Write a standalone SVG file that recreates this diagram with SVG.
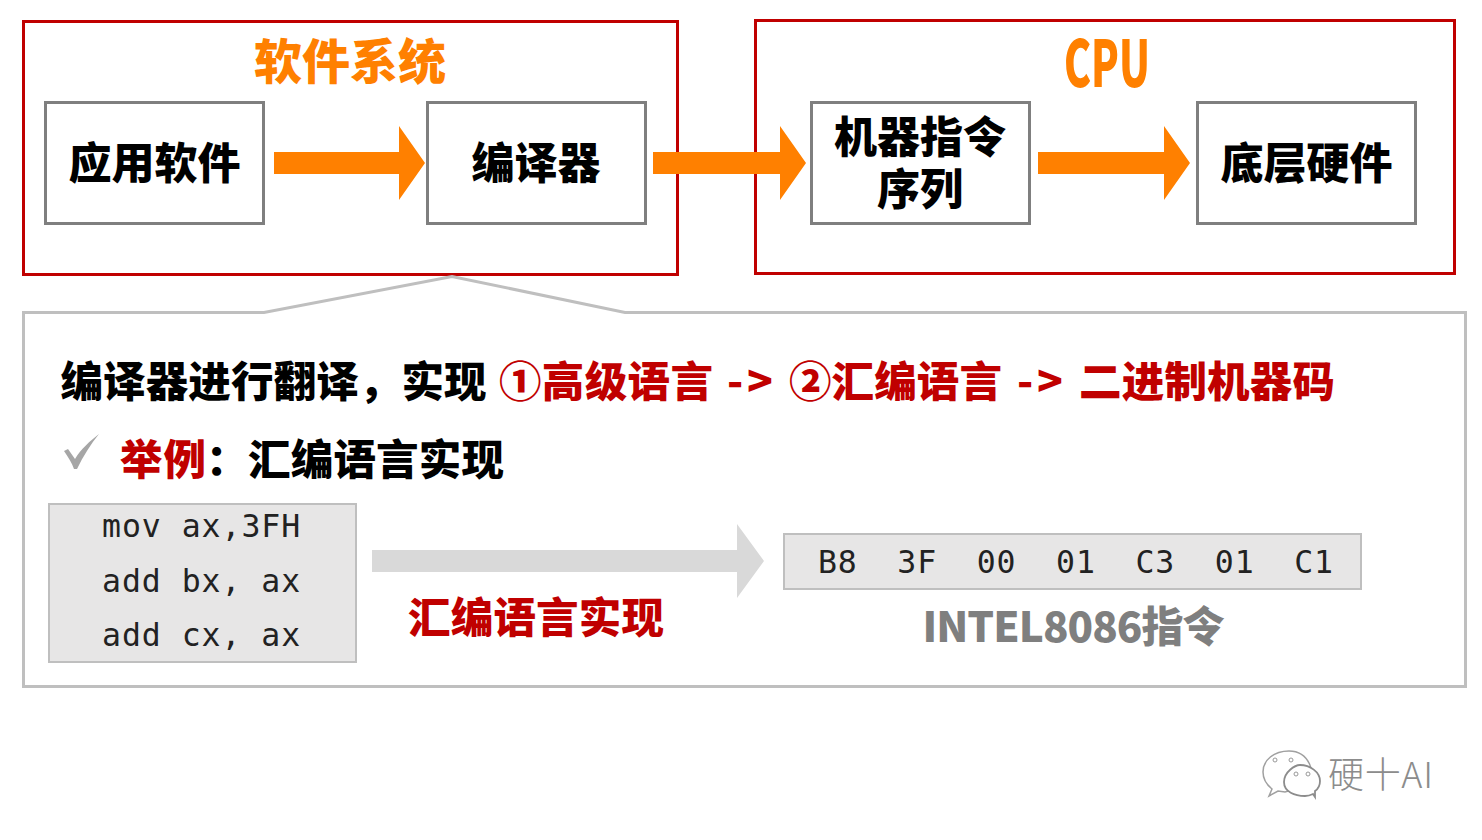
<svg xmlns="http://www.w3.org/2000/svg" width="1482" height="840" viewBox="0 0 1482 840">
<style>
text{font-family:"Noto Sans CJK SC","Noto Sans",sans-serif;font-weight:900}
.t{font-size:43px;fill:#000;text-anchor:middle}
.r{font-size:42.5px;fill:#c00000}
.k{font-size:42.5px;fill:#000}
.o{fill:#ff8000;text-anchor:middle}
.m{font-family:"DejaVu Sans Mono",monospace;font-weight:400;font-size:31.500px;letter-spacing:.95px;fill:#222}
.box{fill:#fff;stroke:#7f7f7f;stroke-width:3}
.red{fill:none;stroke:#c00000;stroke-width:3}
.grey{fill:#e7e6e6;stroke:#bfbfbf;stroke-width:2}
</style>
<rect width="1482" height="840" fill="#fff"/>
<g id="software-system"><rect class="red" x="23.500" y="21.500" width="654" height="253"/><text class="o" x="350" y="79" font-size="48">软件系统</text></g>
<g id="cpu"><rect class="red" x="755.500" y="20.500" width="699" height="253"/><text class="o" x="1107" y="87" font-size="64" textLength="86" lengthAdjust="spacingAndGlyphs">CPU</text></g>
<g id="app"><rect class="box" x="45.500" y="102.500" width="218" height="121"/><text class="t" x="154.500" y="179">应用软件</text></g>
<g id="compiler"><rect class="box" x="427.500" y="102.500" width="218" height="121"/><text class="t" x="536" y="179">编译器</text></g>
<g id="instructions"><rect class="box" x="811.500" y="102.500" width="218" height="121"/><text class="t" y="153"><tspan x="920">机器指令</tspan><tspan x="920" y="205">序列</tspan></text></g>
<g id="hardware"><rect class="box" x="1197.500" y="102.500" width="218" height="121"/><text class="t" x="1306.500" y="179">底层硬件</text></g>
<g id="connectors">
<path fill="#ff8000" d="M274 152H399V126L425 163L399 200V174H274Z"/>
<path fill="#ff8000" d="M653 152H780V126L806 163L780 200V174H653Z"/>
<path fill="#ff8000" d="M1038 152H1164V126L1190 163L1164 200V174H1038Z"/>
<path fill="#d9d9d9" d="M372 550H737V524L764 561L737 598V572H372Z"/>
</g>
<g id="detail-panel">
<path fill="none" stroke="#bfbfbf" stroke-width="3" d="M23.500 312.500H264L452 276.500L625 312.500H1465.500V686.500H23.500Z"/>
<text class="k" x="60.500" y="397" textLength="426">编译器进行翻译，实现</text>
<text class="r" x="499" y="397" textLength="214">①高级语言</text>
<text class="r" x="727" y="397" textLength="46">-&gt;</text>
<text class="r" x="789" y="397" textLength="213">②汇编语言</text>
<text class="r" x="1017" y="397" textLength="46">-&gt;</text>
<text class="r" x="1079" y="397" textLength="256">二进制机器码</text>
<path fill="#a6a6a6" d="M64 451L68 449L75 459C81 449 90 441 99 434C91 444 83 456 77 469L74 469C72 463 68 457 64 451Z"/>
<text class="r" x="120" y="475" textLength="86">举例</text>
<text class="k" x="206" y="475">：</text>
<text class="k" x="248" y="475" textLength="256">汇编语言实现</text>
</g>
<g id="assembly"><rect class="grey" x="49" y="504" width="307" height="158"/>
<text class="m" x="102" y="537">mov ax,3FH</text><text class="m" x="102" y="592">add bx, ax</text><text class="m" x="102" y="646">add cx, ax</text></g>
<text class="r" x="408" y="633" textLength="256">汇编语言实现</text>
<g id="machine-code"><rect class="grey" x="784" y="534" width="577" height="55"/>
<text class="m" x="818" y="573" textLength="516" xml:space="preserve">B8  3F  00  01  C3  01  C1</text></g>
<text x="922.500" y="642" font-size="42" fill="#7f7f7f" textLength="302">INTEL8086指令</text>
<g id="watermark">
<path fill="#fff" stroke="#a0a0a0" stroke-width="1.500" d="M1289 751C1274 751 1263 760 1263 772C1263 779 1267 785 1272 789L1269 796L1278 791L1285 792L1310 785C1316 775 1310 751 1289 751Z"/>
<path fill="#fff" stroke="#8c8c8c" stroke-width="1.800" d="M1300 765C1295 765 1284 772 1284 782C1284 792 1295 796 1305 796C1308 796 1311 795 1313 794L1315 797L1315 791C1318 789 1320 786 1320 781C1320 772 1310 765 1300 765Z"/>
<circle cx="1275" cy="760" r="2" fill="#fff" stroke="#999"/><circle cx="1291" cy="760" r="2" fill="#fff" stroke="#999"/><circle cx="1296" cy="774" r="2" fill="#fff" stroke="#999"/><circle cx="1308" cy="774" r="2" fill="#fff" stroke="#999"/>
<text x="1328" y="788" font-size="36" style="font-weight:300" fill="#8c8c8c" textLength="105">硬十AI</text>
</g>
</svg>
